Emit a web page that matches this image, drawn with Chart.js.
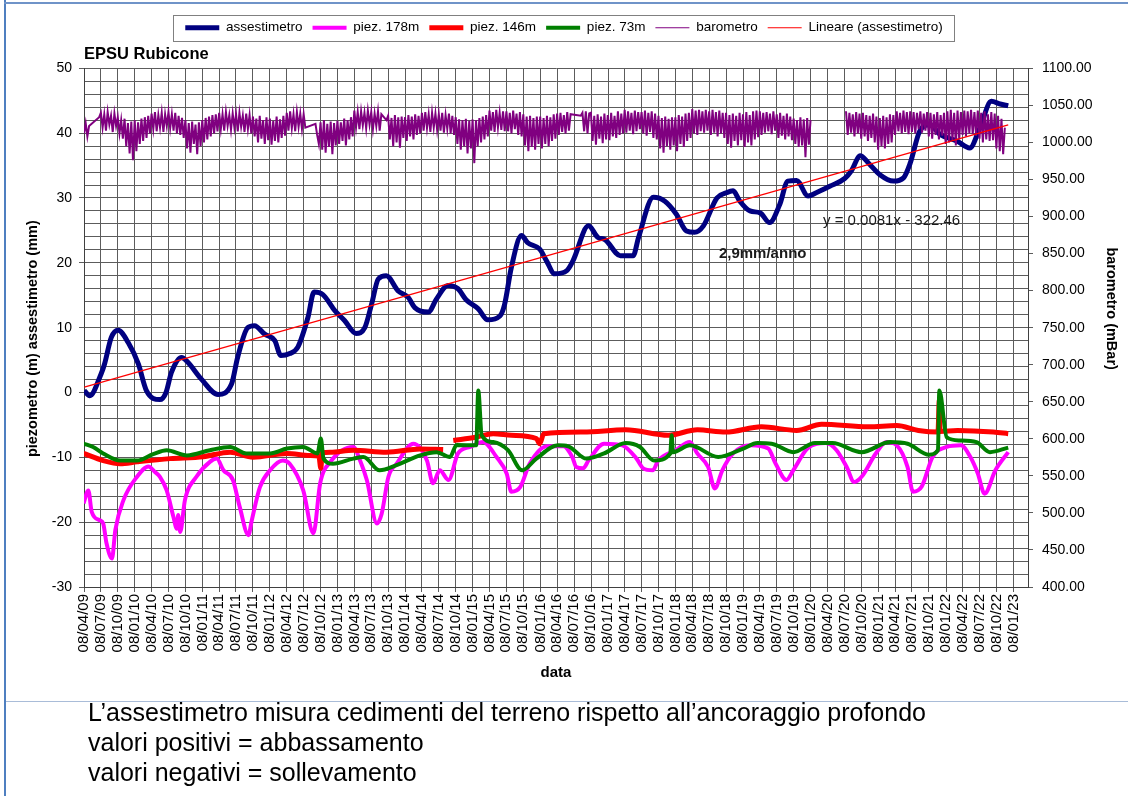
<!DOCTYPE html>
<html>
<head>
<meta charset="utf-8">
<script src="https://cdn.jsdelivr.net/npm/chart.js@4.4.1/dist/chart.umd.min.js"></script>
<style>
  html, body { margin: 0; padding: 0; background: #fff; }
  body { width: 1128px; height: 796px; position: relative; overflow: hidden; }
  #chart { position: absolute; left: 0; top: 0; }
  .frame-left { position: absolute; left: 4px; top: 0; width: 2px; height: 796px; background: #4f7fc0; }
  .frame-top { position: absolute; left: 4px; top: 2px; width: 1124px; height: 2px; background: #6f93c8; }
  .sep { position: absolute; left: 6px; top: 701px; width: 1122px; height: 1px; background: #a9bcd8; }
  .notes {
    position: absolute; left: 88px; top: 697px;
    font-family: "Liberation Sans", Arial, sans-serif;
    font-size: 25px; line-height: 30px; color: #000; white-space: nowrap;
  }
</style>
</head>
<body>
<canvas id="chart" width="1128" height="700"></canvas>
<div class="frame-left"></div>
<div class="frame-top"></div>
<div class="sep"></div>
<div class="notes">
  <div>L’assestimetro misura cedimenti del terreno rispetto all’ancoraggio profondo</div>
  <div>valori positivi = abbassamento</div>
  <div>valori negativi = sollevamento</div>
</div>
<script>
// ============================================================
// EPSU Rubicone · assestimetro, piezometri, barometro
// ============================================================

const TICK_LABELS = [
  "08/04/09", "08/07/09", "08/10/09",
  "08/01/10", "08/04/10", "08/07/10", "08/10/10",
  "08/01/11", "08/04/11", "08/07/11", "08/10/11",
  "08/01/12", "08/04/12", "08/07/12", "08/10/12",
  "08/01/13", "08/04/13", "08/07/13", "08/10/13",
  "08/01/14", "08/04/14", "08/07/14", "08/10/14",
  "08/01/15", "08/04/15", "08/07/15", "08/10/15",
  "08/01/16", "08/04/16", "08/07/16", "08/10/16",
  "08/01/17", "08/04/17", "08/07/17", "08/10/17",
  "08/01/18", "08/04/18", "08/07/18", "08/10/18",
  "08/01/19", "08/04/19", "08/07/19", "08/10/19",
  "08/01/20", "08/04/20", "08/07/20", "08/10/20",
  "08/01/21", "08/04/21", "08/07/21", "08/10/21",
  "08/01/22", "08/04/22", "08/07/22", "08/10/22",
  "08/01/23",
];
const AXIS_END = "27/03/23";

// assestimetro (mm), time as decimal year
const ASSEST_T = [
  2009.27, 2009.35, 2009.52, 2009.57, 2009.67, 2009.77, 2009.92, 2010.07, 2010.19, 2010.39,
  2010.48, 2010.56, 2010.71, 2010.80, 2011.00, 2011.25, 2011.45, 2011.54, 2011.69, 2011.79,
  2011.94, 2012.09, 2012.18, 2012.31, 2012.43, 2012.58, 2012.67, 2012.80, 2012.98, 2013.12,
  2013.29, 2013.42, 2013.52, 2013.62, 2013.74, 2013.91, 2014.06, 2014.16, 2014.36, 2014.48,
  2014.65, 2014.80, 2014.92, 2015.10, 2015.24, 2015.42, 2015.49, 2015.59, 2015.74, 2015.83,
  2016.01, 2016.11, 2016.23, 2016.41, 2016.50, 2016.73, 2016.87, 2016.97, 2017.20, 2017.39,
  2017.47, 2017.69, 2017.86, 2018.03, 2018.18, 2018.30, 2018.43, 2018.63, 2018.77, 2018.87,
  2018.97, 2019.12, 2019.27, 2019.41, 2019.56, 2019.68, 2019.81, 2019.98, 2020.10, 2020.30,
  2020.52, 2020.62, 2020.75, 2020.87, 2021.04, 2021.24, 2021.39, 2021.49, 2021.63, 2021.78,
  2021.93, 2022.18, 2022.37, 2022.52, 2022.69, 2022.82, 2022.94,
];
const ASSEST_V = [
  0.3, -0.5, 2.9, 4.4, 8.5, 9.6, 7.7, 4.4, 0.3, -1.1,
  0.0, 3.1, 5.4, 4.7, 2.1, -0.3, 1.3, 5.4, 10.0, 10.3,
  9.0, 8.0, 5.7, 6.0, 7.0, 11.6, 15.5, 15.1, 12.6, 11.1,
  9.1, 10.0, 13.6, 17.5, 18.0, 15.7, 14.7, 13.1, 12.4, 14.4,
  16.5, 16.0, 14.3, 12.9, 11.2, 11.8, 13.6, 19.3, 24.2, 23.1,
  22.1, 20.3, 18.3, 18.8, 20.3, 25.7, 23.9, 23.6, 21.1, 21.1,
  23.9, 30.1, 29.5, 27.5, 24.9, 24.7, 25.7, 30.0, 30.8, 31.1,
  29.5, 28.0, 27.7, 26.2, 29.0, 32.6, 32.7, 30.3, 30.8, 31.8,
  33.0, 34.2, 36.5, 35.4, 33.6, 32.6, 33.1, 35.4, 40.3, 41.3,
  39.8, 38.8, 37.7, 40.8, 44.9, 44.5, 44.2,
];

// piez. 178m (m)
const P178_T = [
  2009.26, 2009.33, 2009.38, 2009.50, 2009.55, 2009.60, 2009.68, 2009.73, 2009.85, 2010.05,
  2010.22, 2010.32, 2010.39, 2010.49, 2010.59, 2010.64, 2010.66, 2010.69, 2010.76, 2010.93,
  2011.13, 2011.23, 2011.33, 2011.47, 2011.57, 2011.70, 2011.75, 2011.87, 2012.02, 2012.21,
  2012.31, 2012.51, 2012.66, 2012.76, 2012.91, 2013.25, 2013.35, 2013.45, 2013.60, 2013.67,
  2013.77, 2013.89, 2014.14, 2014.34, 2014.43, 2014.53, 2014.66, 2014.80, 2014.98, 2015.17,
  2015.37, 2015.52, 2015.59, 2015.72, 2015.86, 2016.12, 2016.36, 2016.49, 2016.55, 2016.65,
  2016.73, 2016.96, 2017.23, 2017.44, 2017.54, 2017.68, 2017.76, 2018.02, 2018.23, 2018.34,
  2018.50, 2018.60, 2018.71, 2018.87, 2019.13, 2019.39, 2019.50, 2019.66, 2019.76, 2019.97,
  2020.24, 2020.40, 2020.55, 2020.66, 2020.77, 2020.98, 2021.14, 2021.29, 2021.45, 2021.53,
  2021.66, 2021.82, 2022.03, 2022.24, 2022.38, 2022.49, 2022.59, 2022.75, 2022.94,
];
const P178_V = [
  -17.1, -15.1, -18.4, -19.7, -20.2, -23.3, -25.6, -21.2, -16.6, -13.0,
  -11.4, -12.3, -13.0, -15.1, -19.2, -21.0, -18.9, -21.5, -16.6, -13.0,
  -10.7, -10.2, -12.0, -13.5, -17.6, -22.0, -19.7, -14.6, -12.0, -10.5,
  -11.0, -15.1, -21.7, -14.0, -10.7, -8.4, -10.5, -13.5, -20.2, -18.7,
  -13.0, -11.0, -7.9, -10.5, -14.0, -12.0, -13.5, -9.4, -8.4, -7.65,
  -9.95, -12.5, -15.3, -14.6, -11.0, -8.3, -8.3, -9.95, -11.5, -11.7,
  -10.5, -7.9, -8.15, -10.2, -11.7, -12.0, -10.5, -8.9, -7.65, -9.4,
  -11.5, -14.8, -12.0, -9.4, -8.15, -8.65, -11.0, -13.5, -12.0, -8.65,
  -7.8, -8.9, -11.5, -13.8, -13.0, -9.4, -7.65, -8.15, -11.5, -15.3,
  -14.5, -9.95, -8.4, -8.15, -9.95, -12.5, -15.6, -12.0, -9.2,
];

// piez. 146m (m), null = missing readings
const P146_T = [
  2009.26, 2009.55, 2009.80, 2010.05, 2010.54, 2011.03, 2011.43, 2011.77, 2012.27, 2012.61,
  2012.74, 2012.77, 2012.79, 2012.91, 2013.25, 2013.74, 2014.24, 2014.58, 2014.65, 2014.73,
  2015.06, 2015.32, 2015.59, 2015.96, 2016.01, 2016.07, 2016.65, 2017.28, 2017.91, 2018.34,
  2018.76, 2019.29, 2019.81, 2020.18, 2020.87, 2021.29, 2021.61, 2021.90, 2021.92, 2021.93,
  2022.19, 2022.72, 2022.94,
];
const P146_V = [
  -9.4, -10.5, -11.0, -10.7, -10.2, -9.9, -9.2, -10.0, -9.4, -9.7,
  -9.8, -11.7, -9.3, -9.2, -8.9, -9.2, -8.7, -8.8, null, -7.4,
  -6.9, -6.35, -6.6, -7.1, -7.9, -6.35, -6.1, -5.75, -6.6, -5.75,
  -6.1, -5.3, -5.85, -4.9, -5.3, -5.1, -5.85, -6.1, -1.2, -6.0,
  -5.85, -6.1, -6.35,
];

// piez. 73m (m)
const P73_T = [
  2009.26, 2009.40, 2009.55, 2009.80, 2010.05, 2010.29, 2010.49, 2010.79, 2011.13, 2011.43,
  2011.67, 2012.02, 2012.27, 2012.51, 2012.72, 2012.77, 2012.81, 2012.95, 2013.25, 2013.40,
  2013.64, 2013.89, 2014.24, 2014.48, 2014.68, 2014.78, 2015.07, 2015.10, 2015.15, 2015.32,
  2015.54, 2015.75, 2015.96, 2016.28, 2016.43, 2016.70, 2016.96, 2017.28, 2017.49, 2017.70,
  2017.94, 2017.96, 2017.98, 2018.23, 2018.65, 2019.02, 2019.23, 2019.44, 2019.76, 2020.08,
  2020.34, 2020.77, 2021.19, 2021.45, 2021.77, 2021.90, 2021.92, 2022.03, 2022.22, 2022.47,
  2022.67, 2022.94,
];
const P73_V = [
  -7.9, -8.4, -9.4, -10.5, -10.5, -9.5, -8.9, -9.7, -8.9, -8.4,
  -9.4, -9.4, -8.65, -8.4, -9.4, -7.1, -10.2, -11.0, -10.2, -9.95,
  -12.0, -11.2, -9.7, -9.2, -9.95, -8.1, -8.15, 0.3, -6.6, -7.65,
  -8.9, -12.0, -10.2, -8.15, -8.3, -10.2, -9.4, -7.8, -8.4, -10.5,
  -9.4, -6.6, -9.2, -8.15, -9.95, -8.65, -7.8, -7.9, -9.2, -7.8,
  -7.8, -9.2, -7.65, -7.9, -9.6, -8.9, 0.3, -6.9, -7.4, -7.65,
  -9.2, -8.5,
];

// barometro (mBar): one reading every BARO_STEP_DAYS from BARO_START, one row per quarter
const BARO_START = "08/04/09";
const BARO_STEP_DAYS = 9.13;
const BARO_V = [
  1012, 1026, 1008, 1022, null, null, null, null, null, 1034,
  1040, 1020, 1038, 1016, 1041, 1024, 1036, 1014, 1039, 1022,
  1034, 1012, 1030, 1005, 1032, 995, 1026, 985, 1028, 976,
  1030, 988, 1027, 998, 1032, 1002, 1034, 1006, 1036, 1012,
  1039, 1018, 1041, 1015, 1037, 1020, 1040, 1014, 1038, 1022,
  1041, 1019, 1038, 1016, 1040, 1012, 1036, 1010, 1033, 1006,
  1030, 992, 1026, 986, 1028, 998, 1024, 984, 1027, 995,
  1030, 1000, 1033, 1004, 1035, 1008, 1037, 1012, 1038, 1015,
  1040, 1018, 1038, 1016, 1041, 1022, 1037, 1017, 1039, 1020,
  1038, 1015, 1040, 1021, 1036, 1014, 1039, 1018, 1037, 1012,
  1035, 1008, 1032, 1000, 1036, 1005, 1030, 998, 1034, 1003,
  1032, 997, 1029, 1002, 1035, 1000, 1031, 1006, 1036, 1009,
  1040, 1016, 1042, 1019, 1038, 1015, 1041, 1021, 1039, 1018,
  1038, 1020, null, null, null, null, null, 1025, 1010, 998,
  1027, 990, 1030, 986, 1025, 994, 1028, 984, 1026, 996,
  1029, 998, 1027, 1002, 1032, 996, 1030, 1004, 1034, 1008,
  1043, 1020, 1041, 1018, 1042, 1023, 1040, 1019, 1043, 1024,
  1041, 1018, 1039, 1022, 1042, 1016, 1038, null, null, 1030,
  1036, 1004, 1033, 995, 1037, 1000, 1034, 993, 1035, 1006,
  1034, 1002, 1037, 1008, 1035, 1004, 1038, 1010, 1036, 1012,
  1040, 1016, 1041, 1019, 1038, 1014, 1040, 1020, 1039, 1017,
  1038, 1016, 1040, 1013, 1037, 1018, 1039, 1012, 1036, 1010,
  1034, 998, 1031, 990, 1030, 995, 1032, 985, 1029, 992,
  1031, 972, 1030, 995, 1033, 1000, 1035, 1004, 1037, 1008,
  1043, 1016, 1041, 1014, 1044, 1020, 1040, 1017, 1042, 1015,
  1042, 1015, 1040, 1012, 1043, 1018, 1039, 1010, 1041, 1008,
  1038, 996, 1035, 988, 1036, 994, 1033, 990, 1035, 998,
  1035, 992, 1033, 998, 1036, 995, 1034, 1002, 1038, 1005,
  1039, 1010, 1040, 1014, 1037, 1012, 1041, 1016, 1038, null,
  null, null, null, null, 1036, 1040, 1015, 1042, 1012, 1039,
  1040, 1002, 1036, 997, 1038, 1005, 1035, 999, 1039, 1004,
  1037, 1003, 1040, 1008, 1036, 1006, 1042, 1010, 1039, 1012,
  1044, 1013, 1042, 1016, 1040, 1011, 1043, 1015, 1041, 1018,
  1041, 1012, 1043, 1009, 1040, 1014, 1042, 1006, 1039, 1004,
  1036, 992, 1033, 986, 1035, 995, 1032, 990, 1034, 996,
  1034, 988, 1037, 998, 1035, 994, 1039, 1002, 1040, 1006,
  1045, 1012, 1043, 1010, 1044, 1015, 1042, 1013, 1044, 1016,
  1042, 1010, 1044, 1013, 1041, 1008, 1043, 1012, 1040, 1006,
  1040, 998, 1037, 993, 1039, 1002, 1036, 996, 1040, 1003,
  1038, 994, 1041, 1000, 1037, 996, 1042, 1004, 1043, 1007,
  1042, 1010, 1040, 1013, 1041, 1015, 1039, 1011, 1042, 1016,
  1038, 1006, 1040, 1009, 1036, 1004, 1039, 1008, 1035, 1003,
  1032, 998, 1030, 994, 1034, 996, 1031, 980, 1033, 997,
  1030, null, null, null, null, null, null, null, null, null,
  null, null, null, null, null, null, null, null, null, null,
  null, 1042, 1010, 1040, 1013, 1038, 1008, 1041, 1012, 1039,
  1005, 1040, 1008, 1037, 1002, 1036, 1006, 1039, 1000, 1035,
  990, 1033, 995, 1036, 992, 1034, 998, 1038, 1000, 1037,
  1010, 1042, 1015, 1040, 1012, 1043, 1014, 1041, 1011, 1042,
  1014, 1041, 1012, 1040, 1018, 1042, 1013, 1039, 1016, 1041,
  1008, 1040, 1005, 1038, 1010, 1041, 1004, 1037, 1009, 1040,
  998, 1042, 1000, 1044, 1003, 1040, 996, 1043, 1004, 1041,
  1010, 1043, 1008, 1042, 1012, 1044, 1011, 1041, 1009, 1043,
  1005, 1040, 1000, 1042, 1004, 1038, 1002, 1041, 1003, 1039,
  992, 1036, 988, 1032, 984, 1020,
];

// linear trend of the assestimetro (Excel date serials)
const TREND_COEF = [0.0081, -322.46];
const TREND_T = [2009.27, 2022.94];

const EQ_TEXT = "y = 0.0081x - 322.46";
const EQ_AT = [2020.2, 26.5];
const RATE_TEXT = "2,9mm/anno";
const RATE_AT = [2018.66, 21.4];

const Y_TITLE = "piezometro (m) assestimetro (mm)";
const Y2_TITLE = "barometro (mBar)";

const FONT = "'Liberation Sans', Arial, sans-serif";
const GRID = "#5c5c5c";

// ---- date helpers (Excel serial days) ----
const toSerial = (y, m, d) => Date.UTC(y, m - 1, d) / 86400000 + 25569;
const labelToSerial = (s) => {
  const [d, m, y] = s.split("/").map(Number);
  return toSerial(2000 + y, m, d);
};
const yearToSerial = (t) => {
  const y = Math.floor(t);
  const a = Date.UTC(y, 0, 1);
  const b = Date.UTC(y + 1, 0, 1);
  return (a + (t - y) * (b - a)) / 86400000 + 25569;
};
const pairs = (T, V) => T.map((t, i) => ({ x: yearToSerial(t), y: V[i] }));

const TICK_SERIALS = TICK_LABELS.map(labelToSerial);
const LABEL_AT = new Map(TICK_SERIALS.map((s, i) => [s, TICK_LABELS[i]]));

const baroStart = labelToSerial(BARO_START);
const baroData = BARO_V
  .map((v, i) => ({ x: baroStart + i * BARO_STEP_DAYS, y: v }))
  .filter((p) => p.y !== null);

const trendData = TREND_T.map((t) => {
  const s = yearToSerial(t);
  return { x: s, y: TREND_COEF[0] * s + TREND_COEF[1] };
});

function line(label, data, color, width, order, extra = {}) {
  return {
    label, data, order,
    borderColor: color, backgroundColor: color, borderWidth: width,
    pointRadius: 0, pointHoverRadius: 0, tension: 0, fill: false,
    ...extra,
  };
}
const smooth = { cubicInterpolationMode: "monotone" };

// legend frame drawn around the legend items
const legendFrame = {
  id: "legendFrame",
  afterDraw(chart) {
    const boxes = chart.legend && chart.legend.legendHitBoxes;
    if (!boxes || !boxes.length) return;
    const left = Math.min(...boxes.map((b) => b.left)) - 12;
    const right = Math.max(...boxes.map((b) => b.left + b.width)) + 12;
    const top = boxes[0].top - 6;
    const bottom = boxes[0].top + boxes[0].height + 6;
    const { ctx } = chart;
    ctx.save();
    ctx.strokeStyle = "#808080";
    ctx.lineWidth = 1;
    ctx.strokeRect(Math.round(left) + 0.5, Math.round(top) + 0.5, Math.round(right - left), Math.round(bottom - top));
    ctx.restore();
  },
};

// trend equation and yearly rate written on the plot
const trendNotes = {
  id: "trendNotes",
  afterDatasetsDraw(chart) {
    const { ctx, scales } = chart;
    ctx.save();
    ctx.fillStyle = "#1a1a1a";
    ctx.textBaseline = "middle";
    ctx.textAlign = "left";
    ctx.font = `15px ${FONT}`;
    ctx.fillText(EQ_TEXT, scales.x.getPixelForValue(yearToSerial(EQ_AT[0])), scales.y.getPixelForValue(EQ_AT[1]));
    ctx.font = `bold 15px ${FONT}`;
    ctx.fillText(RATE_TEXT, scales.x.getPixelForValue(yearToSerial(RATE_AT[0])), scales.y.getPixelForValue(RATE_AT[1]));
    ctx.restore();
  },
};

// vertical axis titles, placed like the Excel original (not exactly centred)
const axisTitles = {
  id: "axisTitles",
  afterDraw(chart) {
    const { ctx, chartArea: a } = chart;
    const mid = (a.top + a.bottom) / 2;
    ctx.save();
    ctx.fillStyle = "#000";
    ctx.font = `bold 14.5px ${FONT}`;
    ctx.textAlign = "center";
    ctx.textBaseline = "middle";
    ctx.translate(33, mid + 11);
    ctx.rotate(-Math.PI / 2);
    ctx.fillText(Y_TITLE, 0, 0);
    ctx.setTransform(1, 0, 0, 1, 0, 0);
    ctx.translate(1111, mid - 19);
    ctx.rotate(Math.PI / 2);
    ctx.fillText(Y2_TITLE, 0, 0);
    ctx.restore();
  },
};

Chart.defaults.font.family = FONT;
Chart.defaults.color = "#000";

const defaultLabels = Chart.defaults.plugins.legend.labels.generateLabels;

new Chart(document.getElementById("chart"), {
  type: "line",
  data: {
    datasets: [
      line("assestimetro", pairs(ASSEST_T, ASSEST_V), "#000080", 5, 5, smooth),
      line("piez. 178m", pairs(P178_T, P178_V), "#ff00ff", 4, 4, smooth),
      line("piez. 146m", pairs(P146_T, P146_V), "#ff0000", 5, 3, smooth),
      line("piez. 73m", pairs(P73_T, P73_V), "#008000", 4, 2, smooth),
      line("barometro", baroData, "#800080", 2, 1, { yAxisID: "y2", spanGaps: 80 }),
      line("Lineare (assestimetro)", trendData, "#ff0000", 1.3, 0),
    ],
  },
  options: {
    responsive: false,
    animation: false,
    layout: { padding: { top: 11, left: 0, right: 0, bottom: 0 } },
    plugins: {
      tooltip: { enabled: false },
      legend: {
        position: "top",
        weight: 3000,
        labels: {
          font: { size: 13.5 },
          color: "#000",
          usePointStyle: true,
          pointStyle: "line",
          pointStyleWidth: 34,
          padding: 10,
          sort: (a, b) => a.datasetIndex - b.datasetIndex,
          generateLabels: (chart) => defaultLabels(chart).map((l) => ({ ...l, lineWidth: Math.min(l.lineWidth, l.lineWidth >= 4 ? 5 : 1.2) })),
        },
      },
      title: {
        display: true,
        text: "EPSU Rubicone",
        align: "start",
        fullSize: false,
        color: "#000",
        font: { size: 16.5, weight: "bold" },
        padding: { top: 0, bottom: 4 },
      },
    },
    scales: {
      x: {
        type: "linear",
        min: labelToSerial(TICK_LABELS[0]),
        max: labelToSerial(AXIS_END),
        afterBuildTicks: (s) => { s.ticks = TICK_SERIALS.map((v) => ({ value: v })); },
        afterFit: (s) => { s.height = 113; },
        ticks: {
          autoSkip: false, minRotation: 90, maxRotation: 90, padding: 2,
          font: { size: 15 }, color: "#000",
          callback: (v) => LABEL_AT.get(v) || "",
        },
        grid: { color: GRID, lineWidth: 1, tickLength: 5, tickColor: GRID },
        border: { color: "#404040" },
        title: { display: true, text: "data", font: { size: 15, weight: "bold" }, padding: { top: 0, bottom: 18 } },
      },
      y: {
        position: "left",
        min: -30, max: 50,
        afterFit: (s) => { s.width = 84; },
        ticks: {
          stepSize: 2, autoSkip: false, padding: 7,
          font: { size: 14 }, color: "#000",
          callback: (v) => (v % 10 === 0 ? v : ""),
        },
        grid: {
          color: GRID, lineWidth: 1, tickLength: 5,
          tickColor: (c) => (c.tick && c.tick.value % 10 === 0 ? GRID : "rgba(0,0,0,0)"),
        },
        border: { color: "#404040" },
      },
      y2: {
        position: "right",
        min: 400, max: 1100,
        afterFit: (s) => { s.width = 100; },
        ticks: {
          stepSize: 50, padding: 9,
          font: { size: 14 }, color: "#000",
          callback: (v) => v.toFixed(2),
        },
        grid: { drawOnChartArea: false, tickLength: 5, tickColor: GRID },
        border: { color: "#404040" },
      },
    },
  },
  plugins: [legendFrame, trendNotes, axisTitles],
});
</script>
</body>
</html>
